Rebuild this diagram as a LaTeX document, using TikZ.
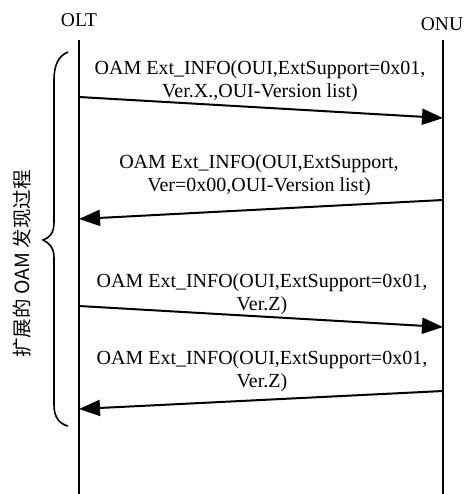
\documentclass[tikz,border=0pt]{standalone}
\usepackage{fontspec}
\setmainfont{Liberation Serif}
\newfontfamily\cjk{Noto Sans CJK SC}
\usetikzlibrary{arrows.meta}
\begin{document}
\begin{tikzpicture}[x=1pt,y=-1pt,
  lifeline/.style={line width=2.3pt},
  msg/.style={line width=2pt,-{Triangle[length=21pt,width=16pt]}},
  msgtext/.style={align=center,font=\fontsize{20}{23.5}\selectfont,inner sep=0pt},
  entity/.style={font=\fontsize{19.5}{21}\selectfont,inner sep=0pt},
  bracestyle/.style={line width=1.6pt}]
\useasboundingbox (0,0) rectangle (463,494);
% entities
\node[entity] (olt) at (79,20) {OLT};
\node[entity] (onu) at (442,24) {ONU};
\coordinate (oltTop) at (79,40);
\coordinate (oltBot) at (79,494);
\coordinate (onuTop) at (443,40);
\coordinate (onuBot) at (443,494);
\draw[lifeline] (oltTop) -- (oltBot);
\draw[lifeline] (onuTop) -- (onuBot);
% message endpoints
\coordinate (m1s) at (79,97);  \coordinate (m1e) at (443,118);
\coordinate (m2s) at (443,200); \coordinate (m2e) at (79,219);
\coordinate (m3s) at (79,306); \coordinate (m3e) at (443,327);
\coordinate (m4s) at (443,391); \coordinate (m4e) at (79,409);
\draw[msg] (m1s) -- (m1e);
\draw[msg] (m2s) -- (m2e);
\draw[msg] (m3s) -- (m3e);
\draw[msg] (m4s) -- (m4e);
% labels
\node[msgtext] (t1) at (260,81) {OAM Ext\_INFO(OUI,ExtSupport=0x01,\\Ver.X.,OUI-Version list)};
\node[msgtext] (t2) at (259,175) {OAM Ext\_INFO(OUI,ExtSupport,\\Ver=0x00,OUI-Version list)};
\node[msgtext] (t3) at (262,294) {OAM Ext\_INFO(OUI,ExtSupport=0x01,\\Ver.Z)};
\node[msgtext] (t4) at (262,371) {OAM Ext\_INFO(OUI,ExtSupport=0x01,\\Ver.Z)};
% brace
\draw[bracestyle] (68,52) .. controls (58,56) and (54,66) .. (54,80)
  -- (54,222) .. controls (54,234) and (49,238) .. (43,240)
  .. controls (49,243) and (54,247) .. (54,258)
  -- (54,405) .. controls (54,418) and (60,424) .. (68,426);
\node[rotate=90,inner sep=0pt,font=\cjk\fontsize{19.5}{20}\selectfont] (side) at (22,264) {扩展的 OAM 发现过程};
\end{tikzpicture}
\end{document}
